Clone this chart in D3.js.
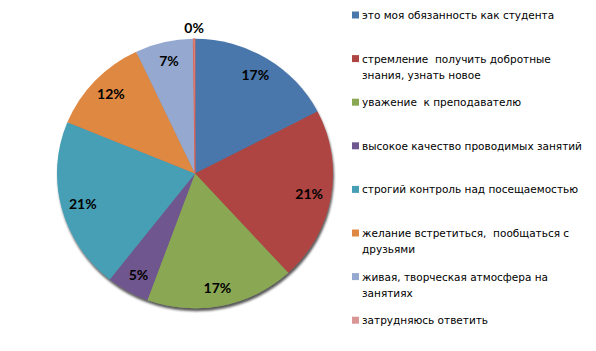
<!DOCTYPE html>
<html><head><meta charset="utf-8">
<script src="https://cdn.jsdelivr.net/npm/d3@7"></script>
<style>html,body{margin:0;padding:0;background:#fff;}svg{display:block;}text{white-space:pre;}</style>
</head><body>
<svg id="chart" width="596" height="351"></svg>
<script>
const categories = [
  "это моя обязанность как студента",
  "стремление  получить добротные\nзнания, узнать новое",
  "уважение  к преподавателю",
  "высокое качество проводимых занятий",
  "строгий контроль над посещаемостью",
  "желание встретиться,  пообщаться с\nдрузьями",
  "живая, творческая атмосфера на\nзанятиях",
  "затрудняюсь ответить"
];
const values = [17.4, 20.8, 17.4, 5.0, 20.6, 11.8, 6.8, 0.2];
const labels = ["17%", "21%", "17%", "5%", "21%", "12%", "7%", "0%"];
const colors = ["#4a77ab", "#ae4542", "#8aa852", "#70578f", "#479fb5", "#de8843", "#95a9d0", "#d99694"];

const svg = d3.select("#chart");
const cx = 195, cy = 173.5, r = 138, sy = 0.976;

const defs = svg.append("defs");
const f = defs.append("filter").attr("id","sh").attr("x","-10%").attr("y","-10%").attr("width","120%").attr("height","125%");
f.append("feDropShadow").attr("dx",1).attr("dy",3).attr("stdDeviation",1.2).attr("flood-color","#222").attr("flood-opacity",0.75);

const pie = d3.pie().sort(null).value(d => d)(values);
const arc = d3.arc().innerRadius(0).outerRadius(r);

const g = svg.append("g").attr("transform", `translate(${cx},${cy}) scale(1,${sy})`).attr("filter","url(#sh)");
g.selectAll("path").data(pie).join("path")
  .attr("d", arc)
  .attr("fill", (d,i) => colors[i])
  .attr("stroke", (d,i) => i === 7 ? "#e0604d" : "none")
  .attr("stroke-width", 0.8);

// value labels
svg.append("g").selectAll("text").data(pie).join("text")
  .attr("x", (d) => { const a = (d.startAngle + d.endAngle)/2; const rr = (d.value < 1) ? 146.5 : 116; return cx + rr*Math.sin(a); })
  .attr("y", (d) => { const a = (d.startAngle + d.endAngle)/2; const rr = (d.value < 1) ? 146.5 : 116; return cy - rr*Math.cos(a); })
  .attr("text-anchor","middle").attr("dominant-baseline","central")
  .attr("font-family","Lato, 'Open Sans', sans-serif").attr("font-weight","bold").attr("font-size","14px")
  .attr("fill","#000")
  .text((d,i) => labels[i]);

// legend
const leg = svg.append("g");
const step = 43.6;
categories.forEach((c, i) => {
  const y0 = 15 + i*step;
  leg.append("rect").attr("x",352).attr("y",y0-3.5).attr("width",7).attr("height",7).attr("fill",colors[i]);
  const lines = c.split("\n");
  const t = leg.append("text").attr("font-family","'DejaVu Sans', sans-serif").attr("font-size","10.5px").attr("fill","#000");
  lines.forEach((ln, k) => {
    t.append("tspan").attr("x", 362).attr("y", y0 + k*16).attr("dominant-baseline","central").text(ln);
  });
});
</script>
</body></html>
